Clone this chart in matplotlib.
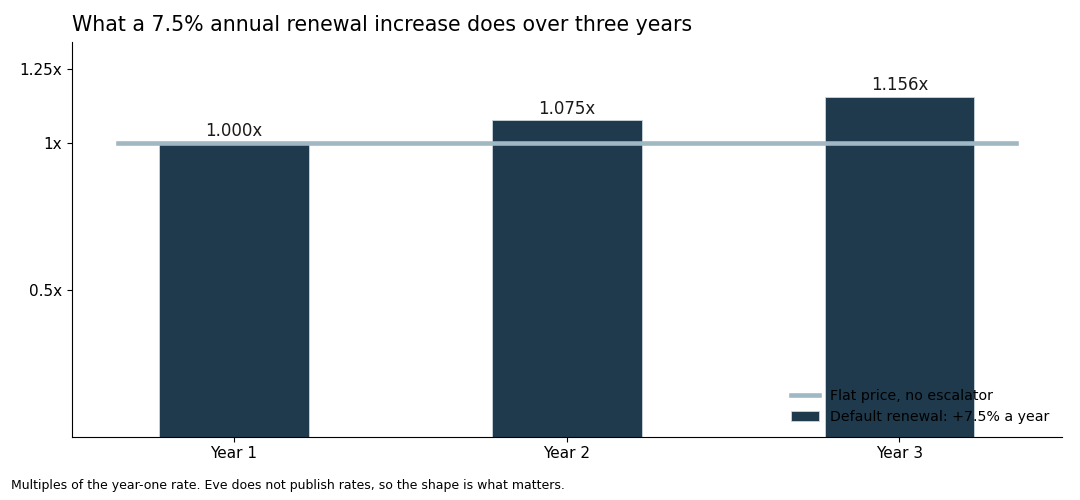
import matplotlib
matplotlib.use("Agg")
import matplotlib.pyplot as plt

# data
years = ["Year 1", "Year 2", "Year 3"]
multiples = [1.000, 1.075, 1.156]
flat_level = 1.0
bar_labels = ["1.000x", "1.075x", "1.156x"]
ytick_vals = [0.5, 1.0, 1.25]
ytick_labels = ["0.5x", "1x", "1.25x"]

BAR_COLOR = "#1f3a4d"
FLAT_COLOR = "#a0b7c4"

fig = plt.figure(figsize=(10.8, 5.0), dpi=100)
ax = fig.add_axes([0.0667, 0.127, 0.917, 0.789])

x = list(range(len(years)))
bars = ax.bar(x, multiples, width=0.45, color=BAR_COLOR, edgecolor="#c9d6de",
              linewidth=0.6, label="Default renewal: +7.5% a year", zorder=2)
flat, = ax.plot([-0.35, len(years) - 1 + 0.35], [flat_level, flat_level], color=FLAT_COLOR,
                linewidth=3.3, label="Flat price, no escalator", zorder=3)

for xi, v, lab in zip(x, multiples, bar_labels):
    ax.text(xi, v + 0.008, lab, ha="center", va="bottom", fontsize=12, color="#1a1a1a")

ax.set_xlim(-0.487, 2.49)
ax.set_ylim(0, 1.342)
ax.set_xticks(x)
ax.set_xticklabels(years, fontsize=11)
ax.set_yticks(ytick_vals)
ax.set_yticklabels(ytick_labels, fontsize=11)

ax.spines["top"].set_visible(False)
ax.spines["right"].set_visible(False)

ax.legend([flat, bars], ["Flat price, no escalator", "Default renewal: +7.5% a year"],
          loc="lower right", frameon=False, fontsize=10.2)

ax.set_title("What a 7.5% annual renewal increase does over three years",
             loc="left", fontsize=14.8, pad=8)

fig.text(0.01, 0.015, "Multiples of the year-one rate. Eve does not publish rates, so the shape is what matters.",
         fontsize=9, ha="left", va="bottom")

fig.savefig("out.png", dpi=100)
